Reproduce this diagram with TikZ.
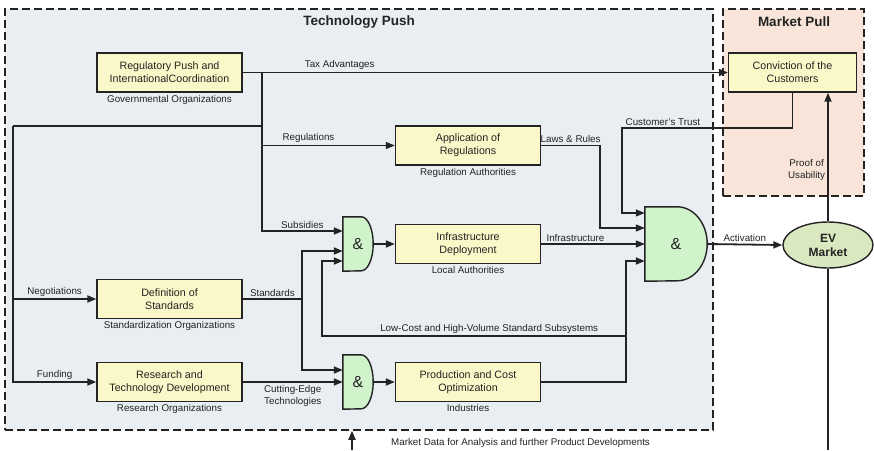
\documentclass[tikz,border=0pt]{standalone}
\usepackage{fontspec}
\setmainfont{Liberation Sans}
\usepackage{tikz}
\usetikzlibrary{shapes.geometric, arrows.meta, positioning, backgrounds}
\definecolor{PushBlue}   {RGB}{233, 238, 243}
\definecolor{PullPeach}  {RGB}{248, 228, 216}
\definecolor{BoxYellow}  {RGB}{250, 248, 200}
\definecolor{GateGreen}  {RGB}{208, 243, 204}
\definecolor{MarketGreen}{RGB}{218, 232, 192}
\definecolor{InkGray}    {RGB}{35,  35,  35}

\begin{document}
\begin{tikzpicture}[
    x=1pt, y=-1pt,
    actor/.style={draw=InkGray, fill=BoxYellow, line width=1.4pt, align=center, minimum width=145pt, minimum height=39pt, inner sep=2pt, font=\fontsize{10.7}{13}\selectfont, text=InkGray},
    org/.style={font=\fontsize{9.8}{12}\selectfont, text=InkGray, inner sep=2pt},
    region/.style={draw=InkGray, line width=1.5pt, dash pattern=on 8pt off 4pt, inner sep=0pt},
    gatebox/.style={minimum width=30pt, minimum height=54pt, inner sep=0pt, font=\fontsize{16}{16}\selectfont, text=InkGray},
    gatebody/.style={draw=InkGray, fill=GateGreen, line width=1.4pt},
    arrow/.style={->, >={Triangle[length=9pt, width=7pt]}, line width=1.8pt, draw=InkGray},
    thinarrow/.style={arrow, line width=1.1pt},
    wire/.style={line width=1.8pt, draw=InkGray},
    lbl/.style={font=\fontsize{9.8}{12}\selectfont, text=InkGray, inner sep=2pt},
    title/.style={font=\fontsize{13.5}{15}\selectfont\bfseries, text=InkGray}
]
    \useasboundingbox (0,0) rectangle (874,450);

    % Regions
    \begin{scope}[on background layer]
        \node[region, fill=PushBlue, minimum width=708pt, minimum height=421pt] (techpush) at (359,219.5) {};
        \node[region, fill=PullPeach, minimum width=141pt, minimum height=187pt] (marketpull) at (793.5,102.5) {};
    \end{scope}
    \node[title] (pushtitle) at (359,22) {Technology Push};
    \node[title] (pulltitle) at (794,22) {Market Pull};

    % Nodes
    \node[actor] (reg) at (169.5,72.5) {Regulatory Push and\\InternationalCoordination};
    \node[org, below=0pt of reg] (regorg) {Governmental Organizations};

    \node[actor] (appl) at (468,145.5) {Application of\\Regulations};
    \node[org, below=0pt of appl] (applorg) {Regulation Authorities};

    \node[actor] (infra) at (468,244) {Infrastructure\\Deployment};
    \node[org, below=0pt of infra] (infraorg) {Local Authorities};

    \node[actor] (stds) at (169.5,299) {Definition of\\Standards};
    \node[org, below=0pt of stds] (stdsorg) {Standardization Organizations};

    \node[actor] (rtd) at (169.5,382) {Research and\\Technology Development};
    \node[org, below=0pt of rtd] (rtdorg) {Research Organizations};

    \node[actor] (prod) at (468,382) {Production and Cost\\Optimization};
    \node[org, below=0pt of prod] (prodorg) {Industries};

    \node[actor, minimum width=128pt] (conv) at (792.5,72.5) {Conviction of the\\Customers};

    \node[ellipse, draw=InkGray, fill=MarketGreen, line width=1.4pt, minimum width=90pt, minimum height=46pt, inner sep=0pt, align=center, font=\fontsize{12}{14}\selectfont\bfseries, text=InkGray] (ev) at (828,245) {EV\\Market};

    % AND gates
    \node[gatebox] (gAnd1) at (358,244) {\&};
    \node[gatebox] (gAnd2) at (358,382) {\&};
    \node[gatebox, minimum width=62pt, minimum height=74pt] (gAnd3) at (676,244) {\&};
    \begin{scope}[on background layer]
        \draw[gatebody] (gAnd1.north west) -- ([xshift=-12pt]gAnd1.north east) arc[start angle=90, end angle=-90, x radius=12pt, y radius=27pt] -- (gAnd1.south west) -- cycle;
        \draw[gatebody] (gAnd2.north west) -- ([xshift=-12pt]gAnd2.north east) arc[start angle=90, end angle=-90, x radius=12pt, y radius=27pt] -- (gAnd2.south west) -- cycle;
        \draw[gatebody] (gAnd3.north west) -- ([xshift=-30pt]gAnd3.north east) arc[start angle=90, end angle=-90, x radius=30pt, y radius=37pt] -- (gAnd3.south west) -- cycle;
    \end{scope}

    % Junctions
    \coordinate (jReg) at (262,72.5);
    \coordinate (jLoop) at (262,126);
    \coordinate (jWest) at (13,126);
    \coordinate (jStd) at (302,299);
    \coordinate (jLaw) at (600,145.5);
    \coordinate (jTrust) at (622,128);
    \coordinate (jLow) at (626,336);
    \coordinate (jLowW) at (322,336);
    \coordinate (jOut) at (828,450);
    \coordinate (jIn) at (352,450);

    % Edges
    \draw[arrow] (reg.east) -- node[lbl, above, pos=0.2] {Tax Advantages} (conv.west);
    \draw[arrow] (jReg) |- node[lbl, above, pos=0.75] {Subsidies} ([yshift=13pt]gAnd1.west);
    \draw[thinarrow] (jReg |- appl.west) -- node[lbl, above, pos=0.35] {Regulations} (appl.west);
    \draw[wire] (jLoop) -- (jWest);
    \draw[arrow] (jWest) |- node[lbl, above, pos=0.75] {Funding} (rtd.west);
    \draw[arrow] (jWest |- stds.west) -- node[lbl, above] {Negotiations} (stds.west);

    \draw[wire] (stds.east) -- node[lbl, above] {Standards} (jStd);
    \draw[arrow] (jStd) |- ([yshift=-7pt]gAnd1.west);
    \draw[arrow] (jStd) |- ([yshift=12pt]gAnd2.west);
    \draw[arrow] (rtd.east) -- node[lbl, below, align=center] {Cutting-Edge\\Technologies} (gAnd2.west);

    \draw[arrow] (gAnd1.east) -- (infra.west);
    \draw[arrow] (gAnd2.east) -- (prod.west);

    % Inputs of the main gate
    \draw[thinarrow] (appl.east) -- node[lbl, above] {Laws \& Rules} (jLaw) |- ([yshift=16pt]gAnd3.west);
    \draw[thinarrow] (conv.south) |- node[lbl, above, pos=0.88] {Customer's Trust} (jTrust) |- ([yshift=31pt]gAnd3.west);
    \draw[thinarrow] (infra.east) -- node[lbl, above, pos=0.33] {Infrastructure} (infra.east -| gAnd3.west);
    \draw[arrow] (prod.east) -| (jLow) |- ([yshift=-17pt]gAnd3.west);
    \draw[arrow] (jLow) -- node[lbl, above, pos=0.45] {Low-Cost and High-Volume Standard Subsystems} (jLowW) |- ([yshift=-17pt]gAnd1.west);

    % Market
    \draw[arrow] (gAnd3.east) -- node[lbl, above] {Activation} (ev.west);
    \draw[arrow] (ev.north) -- node[lbl, left, align=center, pos=0.4] {Proof of\\Usability} (ev.north |- conv.south);
    \draw[wire] (ev.south) -- (jOut);
    \draw[arrow] (jIn) -- (jIn |- techpush.south);
    \node[lbl, anchor=west] (mktdata) at (389,443) {Market Data for Analysis and further Product Developments};

\end{tikzpicture}
\end{document}
